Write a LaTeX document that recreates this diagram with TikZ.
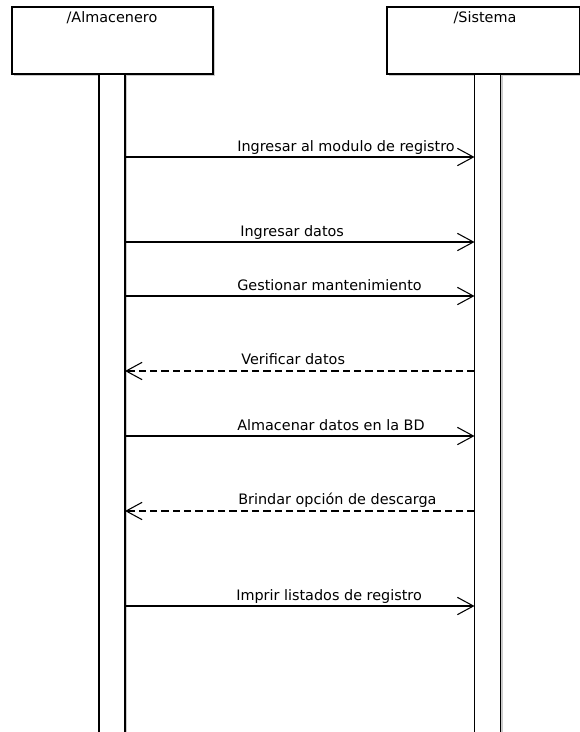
\documentclass[tikz,border=0pt]{standalone}
\usepackage{fontspec}
\setmainfont{DejaVu Sans}
\usetikzlibrary{arrows.meta,shadows}
\begin{document}
\begin{tikzpicture}[x=0.75pt,y=-0.75pt,
  shade box/.style={draw=black,line width=0.8pt,fill=white,
    drop shadow={shadow xshift=1.5pt,shadow yshift=-1.5pt,opacity=0.2,fill=black}},
  actor/.style={shade box,minimum width=201*0.75pt,minimum height=67*0.75pt,inner sep=0pt},
  lifeline/.style={shade box,minimum width=26*0.75pt,inner sep=0pt},
  actorname/.style={font=\fontsize{10.8}{12}\selectfont,anchor=base},
  msglabel/.style={font=\fontsize{10.8}{12}\selectfont,anchor=base west,inner sep=0pt},
  call/.style={draw=black,line width=0.8pt,-{Straight Barb[length=12pt,width=13pt,line width=0.8pt]}},
  reply/.style={call,dash pattern=on 5.5pt off 3pt}]
\useasboundingbox (0,0) rectangle (580,732);
% participants
\node[actor] (almacenero) at (112.5,40.5) {};
\node[actor,minimum width=193*0.75pt] (sistema) at (483.5,40.5) {};
\node[actorname] (almacenerot) at (112,22) {/Almacenero};
\node[actorname] (sistemat) at (485,22) {/Sistema};
% lifelines
\node[lifeline,minimum height=665*0.75pt] (lifeA) at (112,406.5) {};
\node[lifeline,minimum height=665*0.75pt] (lifeS) at (487.5,406.5) {};
% message end points on the lifelines
\foreach \n/\y in {1/157,2/242,3/296,4/371,5/436,6/511,7/606}{
  \coordinate (a\n) at (125,\y);
  \coordinate (s\n) at (474.5,\y);
}
% messages
\draw[call] (a1) -- (s1);
\node[msglabel] (m1) at (237,151) {Ingresar al modulo de registro};
\draw[call] (a2) -- (s2);
\node[msglabel] (m2) at (240,236) {Ingresar datos};
\draw[call] (a3) -- (s3);
\node[msglabel] (m3) at (237,290) {Gestionar mantenimiento};
\draw[reply] (s4) -- (a4);
\node[msglabel] (m4) at (241,364) {Verificar datos};
\draw[call] (a5) -- (s5);
\node[msglabel] (m5) at (237,430) {Almacenar datos en la BD};
\draw[reply] (s6) -- (a6);
\node[msglabel] (m6) at (238,504) {Brindar opción de descarga};
\draw[call] (a7) -- (s7);
\node[msglabel] (m7) at (236,600) {Imprir listados de registro};
\end{tikzpicture}
\end{document}
